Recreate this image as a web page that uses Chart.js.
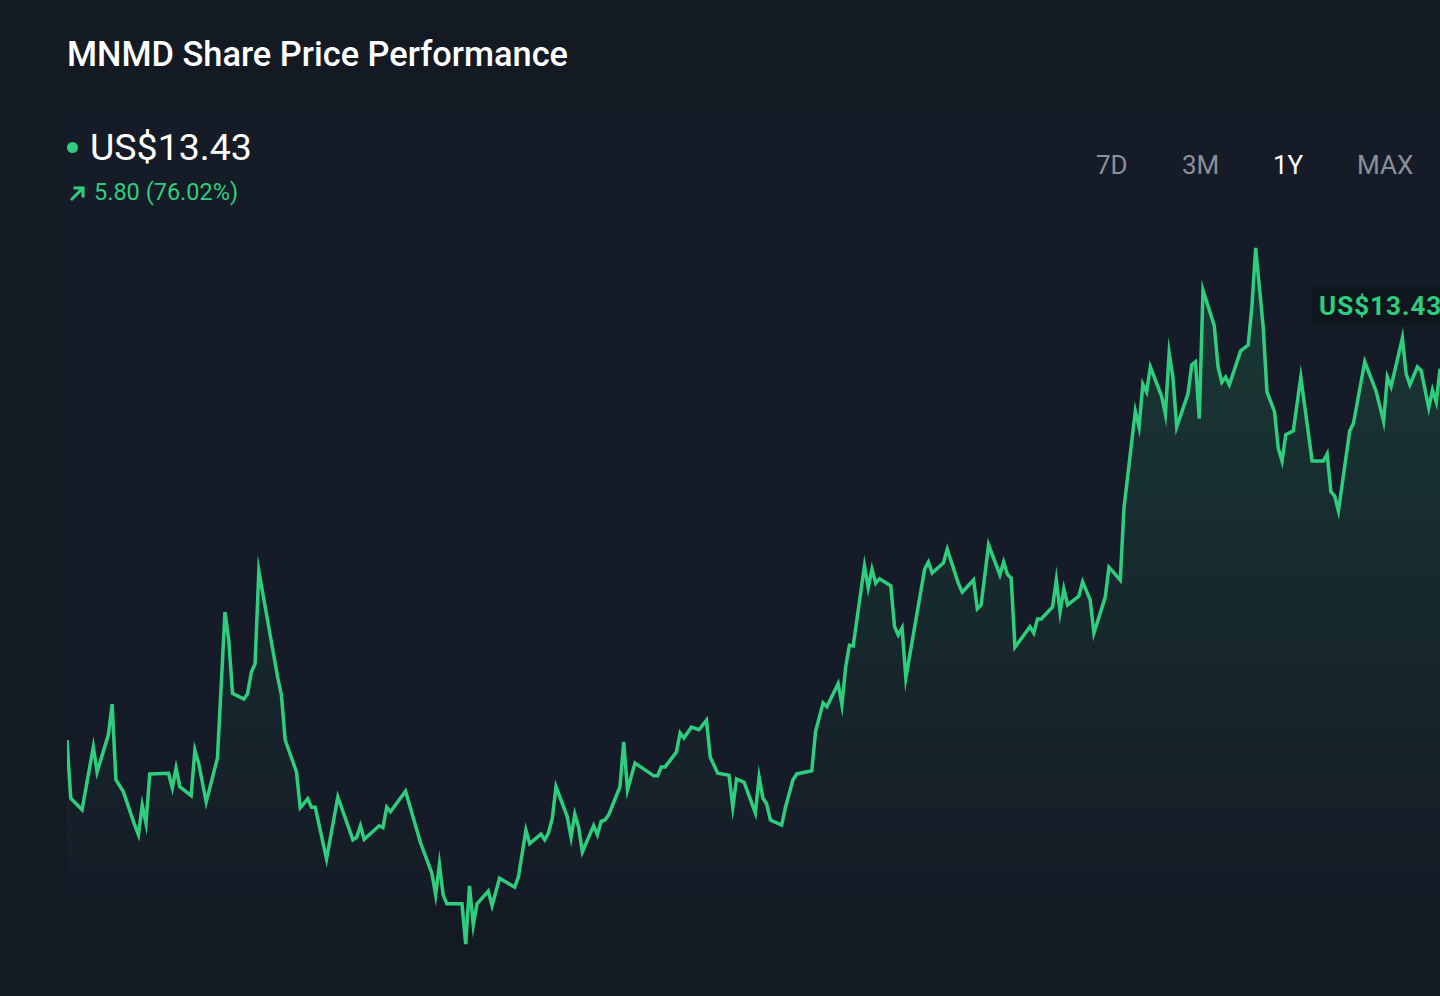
<!DOCTYPE html>
<html>
<head>
<meta charset="utf-8">
<script src="https://cdn.jsdelivr.net/npm/chart.js@4.4.1/dist/chart.umd.min.js"></script>
<style>
  html, body { margin: 0; padding: 0; background: #141a24; overflow: hidden; }
  body { width: 1440px; height: 996px; position: relative; font-family: Roboto, "Noto Sans", sans-serif; }
  .panel { position: absolute; left: 66px; top: 117px; width: 1374px; height: 780px; background: #161c27; }
  .title { position: absolute; left: 67px; top: 34px; font-size: 34.4px; font-weight: 500; color: #ffffff; }
  .price { position: absolute; left: 90px; top: 125px; font-size: 37.5px; color: #ffffff; }
  .dot { position: absolute; left: 67px; top: 142px; width: 11px; height: 11px; border-radius: 50%; background: #2fcd7e; }
  .change { position: absolute; left: 94px; top: 178px; font-size: 23.5px; color: #2fcd7e; }
  .arrow { position: absolute; left: 69px; top: 184px; }
  .ranges { position: absolute; top: 150px; font-size: 26px; color: #8a9099; }
  .ranges.on { color: #ffffff; }
  .tag { position: absolute; left: 1312px; top: 287px; width: 140px; height: 38px; background: #10161e;
         color: #2fcd7e; font-size: 26px; font-weight: 700; line-height: 38px; padding-left: 7px;
         letter-spacing: 1px; box-sizing: border-box; }
  #priceChart { position: absolute; left: 67px; top: 200px; }
</style>
</head>
<body>
<div class="panel"></div>
<div class="title">MNMD Share Price Performance</div>
<div class="dot"></div>
<div class="price">US$13.43</div>
<svg class="arrow" width="18" height="18" viewBox="0 0 18 18">
  <path d="M3 15 L14 4 M6 4 L14 4 L14 12" stroke="#2fcd7e" stroke-width="3" fill="none" stroke-linecap="square"/>
</svg>
<div class="change">5.80 (76.02%)</div>
<div class="ranges" style="left:1096px">7D</div>
<div class="ranges" style="left:1182px">3M</div>
<div class="ranges on" style="left:1273px">1Y</div>
<div class="ranges" style="left:1357px">MAX</div>
<canvas id="priceChart" width="1373" height="768"></canvas>
<div class="tag">US$13.43</div>

<script>
// days since start of the 1Y window
const days = [
  0, 1, 4, 7, 8, 11, 12, 13, 15, 18,
  19, 20, 21, 22, 27, 28, 29, 30, 33, 34,
  35, 37, 40, 42, 43, 44, 47, 48, 49, 50,
  51, 56, 57, 58, 61, 62, 64, 65, 66, 69,
  72, 76, 77, 78, 79, 83, 84, 85, 86, 90,
  94, 97, 98, 99, 100, 101, 105, 106, 107, 108,
  109, 112, 113, 115, 119, 120, 122, 123, 126, 127,
  128, 129, 130, 133, 134, 135, 136, 137, 140, 141,
  142, 143, 144, 147, 148, 149, 151, 156, 157, 158,
  159, 162, 163, 164, 166, 168, 170, 171, 173, 176,
  177, 178, 180, 183, 184, 185, 186, 187, 190, 191,
  193, 194, 198, 199, 201, 202, 205, 206, 207, 208,
  209, 212, 213, 214, 215, 216, 219, 220, 221, 222,
  223, 228, 229, 230, 233, 234, 237, 238, 241, 242,
  243, 245, 248, 249, 250, 251, 252, 256, 257, 258,
  259, 262, 263, 264, 265, 266, 269, 270, 272, 273,
  276, 277, 280, 281, 284, 285, 286, 287, 288, 291,
  292, 293, 294, 295, 298, 299, 300, 301, 302, 305,
  306, 307, 308, 309, 312, 314, 315, 316, 318, 319,
  321, 322, 323, 324, 326, 328, 331, 334, 335, 336,
  337, 338, 341, 342, 345, 348, 350, 351, 352, 355,
  356, 357, 359, 360, 362, 363, 364, 365
];

// share price, US$
const prices = [
  7.63, 6.72, 6.54, 7.52, 7.13, 7.71, 8.19, 7.01, 6.82, 6.30,
  6.15, 6.61, 6.33, 7.10, 7.11, 6.88, 7.19, 6.90, 6.76, 7.47,
  7.27, 6.66, 7.35, 9.63, 9.19, 8.36, 8.27, 8.35, 8.69, 8.82,
  10.27, 8.61, 8.33, 7.63, 7.13, 6.57, 6.71, 6.58, 6.58, 5.77,
  6.74, 6.07, 6.11, 6.29, 6.08, 6.29, 6.26, 6.58, 6.51, 6.83,
  6.02, 5.55, 5.21, 5.69, 5.21, 5.07, 5.07, 4.44, 5.35, 4.74,
  5.07, 5.27, 5.04, 5.47, 5.33, 5.49, 6.22, 6.01, 6.16, 6.07,
  6.18, 6.40, 6.90, 6.43, 6.11, 6.47, 6.27, 5.88, 6.29, 6.15,
  6.36, 6.38, 6.46, 6.90, 7.60, 6.85, 7.27, 7.07, 7.07, 7.21,
  7.21, 7.44, 7.74, 7.66, 7.83, 7.79, 7.94, 7.36, 7.11, 7.08,
  6.58, 7.02, 6.97, 6.49, 7.05, 6.72, 6.63, 6.38, 6.30, 6.58,
  7.01, 7.10, 7.15, 7.76, 8.21, 8.15, 8.51, 8.18, 8.77, 9.11,
  9.10, 10.35, 10.01, 10.30, 10.08, 10.15, 10.04, 9.40, 9.27, 9.38,
  8.60, 10.30, 10.41, 10.24, 10.40, 10.61, 10.07, 9.94, 10.13, 9.68,
  9.74, 10.68, 10.21, 10.41, 10.22, 10.16, 9.08, 9.40, 9.30, 9.52,
  9.52, 9.71, 10.13, 9.63, 9.99, 9.74, 9.88, 10.10, 9.82, 9.30,
  9.86, 10.33, 10.13, 11.26, 12.77, 12.52, 13.19, 13.07, 13.46, 13.00,
  12.72, 13.68, 13.30, 12.52, 13.04, 13.49, 13.54, 12.65, 14.66, 14.10,
  13.46, 13.22, 13.30, 13.18, 13.71, 13.80, 14.40, 15.32, 14.08, 13.07,
  12.76, 12.19, 11.99, 12.40, 12.46, 13.30, 11.99, 11.99, 12.10, 11.51,
  11.44, 11.21, 12.46, 12.58, 13.54, 13.08, 12.61, 13.30, 13.15, 13.91,
  13.35, 13.18, 13.46, 13.40, 12.82, 13.10, 12.91, 13.43
];

const points = days.map((d, i) => ({ x: d, y: prices[i] }));

const canvas = document.getElementById('priceChart');

function areaFill(context) {
  const { ctx, chartArea } = context.chart;
  if (!chartArea) return 'rgba(46, 205, 126, 0.1)';
  const g = ctx.createLinearGradient(0, 40, 0, 700);
  g.addColorStop(0, 'rgba(46, 205, 126, 0.17)');
  g.addColorStop(1, 'rgba(46, 205, 126, 0)');
  return g;
}

new Chart(canvas, {
  type: 'line',
  data: {
    datasets: [{
      label: 'MNMD',
      data: points,
      borderColor: '#2fcd7e',
      borderWidth: 3.5,
      backgroundColor: areaFill,
      fill: 'start',
      pointRadius: 0,
      tension: 0,
    }]
  },
  options: {
    responsive: false,
    animation: false,
    layout: { padding: 0 },
    plugins: {
      legend: { display: false },
      tooltip: { enabled: false }
    },
    scales: {
      x: { type: 'linear', min: 0, max: 365, display: false },
      y: { min: 4.0675, max: 16.0675, display: false }
    }
  }
});
</script>
</body>
</html>
